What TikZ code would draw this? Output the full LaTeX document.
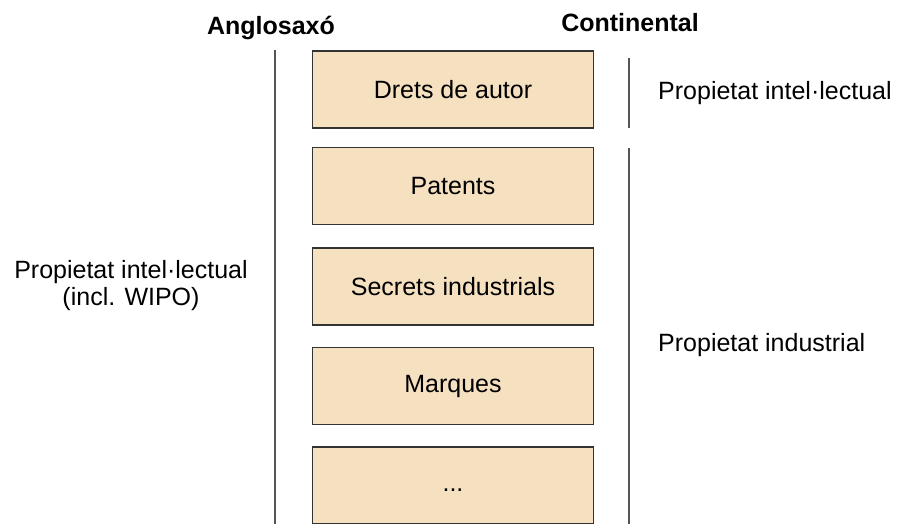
\documentclass[tikz,border=0pt]{standalone}
\usepackage{fontspec}
\setmainfont{Liberation Sans}
\definecolor{boxfill}{HTML}{F5E0C0}
\definecolor{boxline}{HTML}{333333}
\definecolor{sepline}{HTML}{555555}
\begin{document}
\begin{tikzpicture}[x=1pt,y=-1pt,
  catbox/.style={draw=boxline,line width=1.6pt,fill=boxfill,minimum width=281pt,minimum height=77pt,inner sep=0pt,font=\fontsize{25}{30}\selectfont},
  lbl/.style={font=\fontsize{25}{27}\selectfont,inner sep=0pt},
  ttl/.style={font=\fontsize{25}{30}\selectfont\bfseries,inner sep=0pt},
  sep/.style={draw=sepline,line width=2.2pt}]
\useasboundingbox (0,0) rectangle (902,524);
\clip (0,0) rectangle (902,524);
\node[ttl] (anglo) at (271,28) {Anglosaxó};
\node[ttl] (cont) at (630,23) {Continental};
\node[catbox] (b1) at (453,89.5) {Drets de autor};
\node[catbox] (b2) at (453,186) {Patents};
\node[catbox] (b3) at (453,286.5) {Secrets industrials};
\node[catbox] (b4) at (453,386) {Marques};
\node[catbox] (b5) at (453,485.5) {\vphantom{Mp}...};
\node[lbl,anchor=west] (pi) at (658,93) {Propietat intel·lectual};
\node[lbl,anchor=west] (pind) at (658,345) {Propietat industrial};
\node[lbl,align=center] (pil) at (131,286) {Propietat intel·lectual\\(incl. WIPO)};
\coordinate (l1) at (275,50);
\coordinate (l2) at (275,530);
\coordinate (r1) at (629,58);
\coordinate (r2) at (629,128);
\coordinate (r3) at (629,148);
\coordinate (r4) at (629,530);
\draw[sep] (l1) -- (l2);
\draw[sep] (r1) -- (r2);
\draw[sep] (r3) -- (r4);
\end{tikzpicture}
\end{document}
